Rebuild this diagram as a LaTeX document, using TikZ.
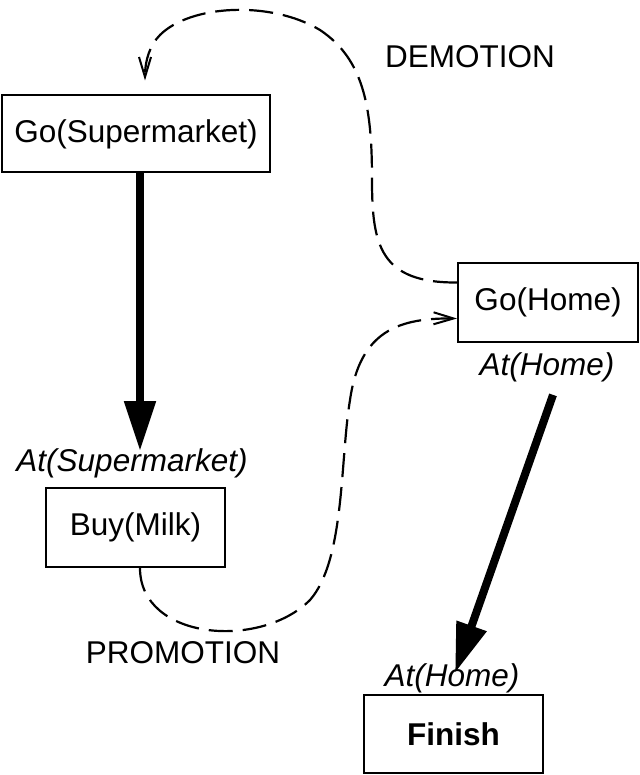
\documentclass[tikz,border=0pt]{standalone}
\usepackage{fontspec}
\setmainfont{Liberation Sans}
\usetikzlibrary{arrows.meta}
\begin{document}
\begin{tikzpicture}[x=1pt,y=-1pt,
  box/.style={draw, line width=2pt, inner sep=0pt, font=\fontsize{31.5}{36}\selectfont},
  lbl/.style={inner sep=0pt, font=\fontsize{31.5}{36}\selectfont\itshape},
  word/.style={inner sep=0pt, font=\fontsize{31.5}{36}\selectfont},
  thick arrow/.style={line width=8pt, -{Triangle[length=50pt,width=30pt]}},
  dash link/.style={line width=2.2pt, dash pattern=on 24pt off 10pt, -{Straight Barb[length=20pt,width=12pt,line width=2pt]}}]
\useasboundingbox (0,0) rectangle (639,775);
\node[box, minimum width=268pt, minimum height=77pt] (gs) at (136,134) {Go(Supermarket)};
\node[box, minimum width=179pt, minimum height=79pt] (bm) at (135.5,527.5) {Buy(Milk)};
\node[box, minimum width=180pt, minimum height=79pt] (gh) at (548,302.5) {Go(Home)};
\node[box, minimum width=179pt, minimum height=78pt, font=\fontsize{31.5}{36}\selectfont\bfseries] (fin) at (453.5,734) {Finish};
\node[lbl] (atsm) at (132,463) {At(Supermarket)};
\node[lbl] (ath1) at (547,367) {At(Home)};
\node[lbl] (ath2) at (452,678) {At(Home)};
\node[word] (dem) at (470,57) {DEMOTION};
\node[word] (pro) at (183,653) {PROMOTION};
\draw[thick arrow] ([xshift=4pt]gs.south) -- ([xshift=8pt,yshift=-3pt]atsm.north);
\draw[thick arrow] ([xshift=6pt,yshift=-13pt]ath1.south) -- ([xshift=3pt,yshift=5pt]ath2.center);
\draw[dash link] ([yshift=20pt]gh.west) .. controls (380,283) and (372,245) .. (372,180)
   .. controls (372,110) and (365,60) .. (320,30) .. controls (270,0) and (190,5) .. (160,35)
   .. controls (150,45) and (145,60) .. ([xshift=9pt,yshift=14pt]gs.north);
\draw[dash link] ([xshift=4.5pt]bm.south) .. controls (140,640) and (260,650) .. (310,600)
   .. controls (345,560) and (340,460) .. (350,400) .. controls (360,330) and (400,318) .. ([yshift=-16pt]gh.west);
\end{tikzpicture}
\end{document}
